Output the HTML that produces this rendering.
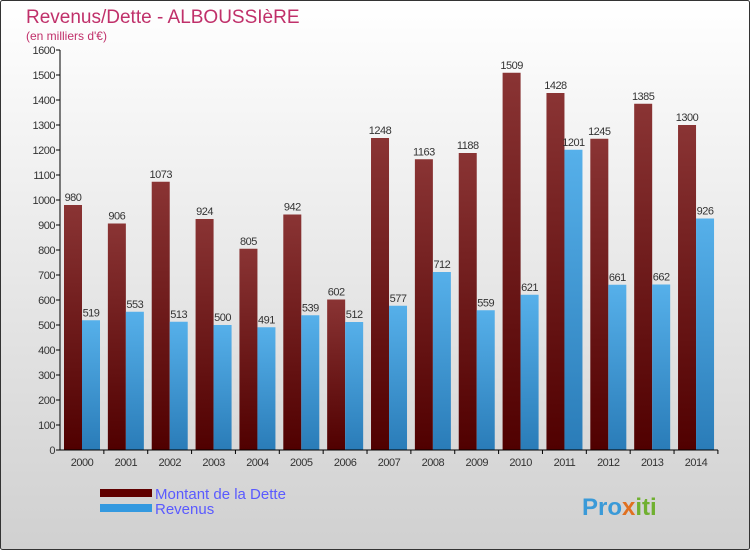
<!DOCTYPE html>
<html><head><meta charset="utf-8"><style>
body{margin:0}
#c{width:750px;height:550px;position:relative;font-family:"Liberation Sans",sans-serif}
</style></head><body>
<div id="c">
<svg id="s" width="750" height="550" xmlns="http://www.w3.org/2000/svg">
<defs>
<linearGradient id="bg" x1="0" y1="0" x2="0" y2="1"><stop offset="0" stop-color="#ffffff"/><stop offset="1" stop-color="#d0d0d0"/></linearGradient>
<linearGradient id="gd" x1="0" y1="0" x2="0" y2="1"><stop offset="0" stop-color="#8a3434"/><stop offset="1" stop-color="#500000"/></linearGradient>
<linearGradient id="gr" x1="0" y1="0" x2="0" y2="1"><stop offset="0" stop-color="#56b0ea"/><stop offset="1" stop-color="#2a7cb8"/></linearGradient>
</defs>
<rect x="0.5" y="0.5" width="749" height="549" fill="url(#bg)" stroke="#333" rx="2"/>
<text x="26" y="23" font-size="19" fill="#c0306a">Revenus/Dette - ALBOUSSIèRE</text>
<text x="26" y="40" font-size="12" fill="#c0306a">(en milliers d'€)</text>
<g id="plot"></g>
<rect x="100" y="489" width="52" height="8" fill="#600000"/>
<text x="155" y="499" font-size="15" fill="#5a5aff">Montant de la Dette</text>
<rect x="100" y="504" width="52" height="8" fill="#3399e0"/>
<text x="155" y="514" font-size="15" fill="#5a5aff">Revenus</text>
<text x="582" y="515" font-size="24" font-weight="bold" fill="#3a9ad8">Pro<tspan fill="#e07020">x</tspan><tspan fill="#70b030">iti</tspan></text>
</svg>
</div>
<script>
const years=["2000","2001","2002","2003","2004","2005","2006","2007","2008","2009","2010","2011","2012","2013","2014"];
const dette=[980,906,1073,924,805,942,602,1248,1163,1188,1509,1428,1245,1385,1300];
const revenus=[519,553,513,500,491,539,512,577,712,559,621,1201,661,662,926];
const yTicks=[0,100,200,300,400,500,600,700,800,900,1000,1100,1200,1300,1400,1500,1600];
const NS="http://www.w3.org/2000/svg";
const g=document.getElementById('plot');
const x0=60,step=43.86,yB=450,yT=50,maxV=1600;
const y=v=>yB-(v/maxV)*(yB-yT);
function mk(t,a){const e=document.createElementNS(NS,t);for(const k in a)e.setAttribute(k,a[k]);g.appendChild(e);return e;}
yTicks.forEach(v=>{
 const l=mk('line',{x1:56,x2:60,y1:y(v),y2:y(v),stroke:'#000'});
 
 
 const t=mk('text',{x:55,y:y(v)+4,'font-size':11,'text-anchor':'end',fill:'#333','letter-spacing':'-0.5'});
 t.textContent=v;
 
 
});
years.forEach((yr,i)=>{
 const gx=x0+i*step;
 const d=mk('rect',{x:gx+4,y:y(dette[i]),width:18,height:yB-y(dette[i]),fill:'url(#gd)'});
 
 
 const r=mk('rect',{x:gx+22,y:y(revenus[i]),width:18,height:yB-y(revenus[i]),fill:'url(#gr)'});
 
 
 const td=mk('text',{x:gx+13,y:y(dette[i])-4,'font-size':11,'text-anchor':'middle',fill:'#333','letter-spacing':'-0.5'});
 td.textContent=dette[i];
 
 
 const tr=mk('text',{x:gx+31,y:y(revenus[i])-4,'font-size':11,'text-anchor':'middle',fill:'#333','letter-spacing':'-0.5'});
 tr.textContent=revenus[i];
 
 
 const tk=mk('line',{x1:gx+step,x2:gx+step,y1:450,y2:454,stroke:'#000'});
 
 
 const tx=mk('text',{x:gx+22,y:466,'font-size':11,'text-anchor':'middle',fill:'#333','letter-spacing':'-0.5'});
 tx.textContent=yr;
 
 
});
const ax=mk('line',{x1:60,x2:60,y1:50,y2:450,stroke:'#000'});


const bx=mk('line',{x1:60,x2:x0+15*step,y1:450,y2:450,stroke:'#000'});


</script>
</body></html>
